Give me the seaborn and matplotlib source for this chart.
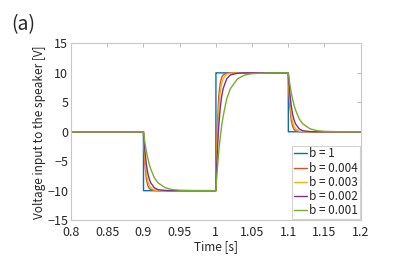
import numpy as np
import pandas as pd
import matplotlib
matplotlib.use("Agg")
import matplotlib.pyplot as plt
import seaborn as sns

# Step instants and voltage levels of the input square wave
step_times = [0.9, 1.0, 1.1]
levels = [0.0, -10.0, 10.0, 0.0]
t_start, t_end = 0.8, 1.2

# Time after each step [s] and remaining fraction of the step
dt = [0.0, 0.0001, 0.001, 0.002, 0.004, 0.006, 0.008, 0.010, 0.015, 0.020, 0.030, 0.040, 0.050, 0.070]
labels = ["b = 1", "b = 0.004", "b = 0.003", "b = 0.002", "b = 0.001"]
resp_b1     = [1.0, 0.0, 0.0, 0.0, 0.0, 0.0, 0.0, 0.0, 0.0, 0.0, 0.0, 0.0, 0.0, 0.0]
resp_b0004  = [1.0, 0.96, 0.67, 0.45, 0.20, 0.09, 0.04, 0.018, 0.003, 0.0, 0.0, 0.0, 0.0, 0.0]
resp_b0003  = [1.0, 0.97, 0.74, 0.55, 0.30, 0.165, 0.09, 0.05, 0.011, 0.003, 0.0, 0.0, 0.0, 0.0]
resp_b0002  = [1.0, 0.98, 0.82, 0.67, 0.45, 0.30, 0.20, 0.135, 0.05, 0.018, 0.003, 0.0, 0.0, 0.0]
resp_b0001  = [1.0, 0.99, 0.905, 0.82, 0.67, 0.55, 0.45, 0.37, 0.22, 0.135, 0.05, 0.018, 0.007, 0.001]
responses = [resp_b1, resp_b0004, resp_b0003, resp_b0002, resp_b0001]

colors = ["#0072BD", "#D95319", "#EDB120", "#7E2F8E", "#77AC30"]

rows = []
for lab, resp in zip(labels, responses):
    rows.append((lab, t_start, levels[0]))
    for k, ts in enumerate(step_times):
        old, new = levels[k], levels[k + 1]
        for d, r in zip(dt, resp):
            rows.append((lab, ts + d, new + (old - new) * r))
    rows.append((lab, t_end, levels[-1]))
df = pd.DataFrame(rows, columns=["b", "time", "voltage"])

sns.set_theme(style="white")
plt.rcParams["font.family"] = ["Noto Sans CJK JP", "DejaVu Sans"]

fig = plt.figure(figsize=(3.99, 2.63), dpi=100)
ax = fig.add_axes([0.178, 0.163, 0.726, 0.672])

sns.lineplot(data=df, x="time", y="voltage", hue="b", hue_order=labels,
             palette=colors, sort=False, estimator=None, linewidth=1.0, ax=ax)

ax.set_xlim(0.8, 1.2)
ax.set_ylim(-15, 15)
ax.set_xticks([0.8, 0.85, 0.9, 0.95, 1.0, 1.05, 1.1, 1.15, 1.2])
ax.set_xticklabels(["0.8", "0.85", "0.9", "0.95", "1", "1.05", "1.1", "1.15", "1.2"])
ax.set_yticks([-15, -10, -5, 0, 5, 10, 15])
ax.set_yticklabels(["\u221215", "\u221210", "\u22125", "0", "5", "10", "15"])
ax.set_xlabel("Time [s]", fontsize=8.5, color="#262626", labelpad=1)
ax.set_ylabel("Voltage input to the speaker [V]", fontsize=8.5, color="#262626", labelpad=1)
ax.tick_params(direction="in", length=3, width=0.6, colors="#b0b0b0",
               labelcolor="#262626", labelsize=9, top=True, right=True)
ax.tick_params(axis="x", pad=4)
ax.tick_params(axis="y", pad=2)
for s in ax.spines.values():
    s.set_color("#c8c8c8")
    s.set_linewidth(0.8)

leg = ax.legend(loc="lower right", fontsize=8.5, frameon=True, fancybox=False,
                handlelength=1.1, handletextpad=0.15, labelspacing=0.1,
                borderpad=0.15, borderaxespad=0.1)
leg.get_frame().set_edgecolor("#c8c8c8")
leg.get_frame().set_linewidth(0.8)

fig.text(0.028, 0.885, "(a)", fontsize=14, color="#262626")

fig.savefig("out.png", dpi=100, facecolor="white")
